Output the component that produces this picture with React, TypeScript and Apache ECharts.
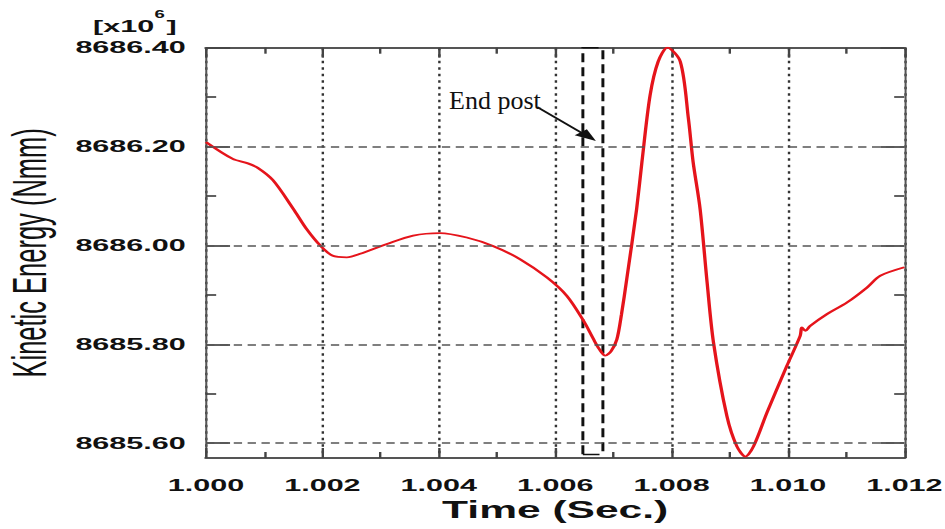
import React, { useEffect, useRef } from "react";
import * as echarts from "echarts";

// ---- data ----
const TIME = [
  1.0, 1.00046, 1.00072, 1.00089, 1.00115, 1.0015, 1.00173, 1.00197, 1.00218, 1.00242, 1.00265,
  1.00311, 1.00356, 1.00402, 1.00448, 1.00493, 1.0054, 1.00586, 1.0062, 1.00649, 1.00666,
  1.00676, 1.00686, 1.00696, 1.00706, 1.00714, 1.00723, 1.0074, 1.00749, 1.00763, 1.00777,
  1.00793, 1.00815, 1.00829, 1.00837, 1.00849, 1.00861, 1.00872, 1.00895, 1.00912, 1.00927,
  1.00941, 1.00964, 1.00998, 1.01021, 1.01024, 1.0103, 1.01038, 1.01067, 1.01102, 1.01136,
  1.01159, 1.012,
];
const ENERGY = [
  8686.209, 8686.175, 8686.166, 8686.157, 8686.132, 8686.074, 8686.033, 8685.999, 8685.979, 8685.976, 8685.983,
  8686.003, 8686.02, 8686.025, 8686.016, 8685.999, 8685.972, 8685.935, 8685.898, 8685.847, 8685.81,
  8685.79, 8685.777, 8685.786, 8685.81, 8685.861, 8685.932, 8686.074, 8686.168, 8686.303, 8686.372,
  8686.4, 8686.372, 8686.256, 8686.169, 8686.074, 8685.926, 8685.804, 8685.655, 8685.594, 8685.573,
  8685.594, 8685.662, 8685.756, 8685.817, 8685.834, 8685.827, 8685.837, 8685.861, 8685.885, 8685.915,
  8685.939, 8685.956,
];
const X_MIN = 1.0;
const X_MAX = 1.012;
const X_STEP = 0.002;
const Y_MIN = 8685.57;
const Y_MAX = 8686.4;
const Y_MAJOR = [8685.6, 8685.8, 8686.0, 8686.2, 8686.4];
const Y_MINOR = [8685.7, 8685.9, 8686.1, 8686.3];
const Y_GRID = [8685.6, 8685.8, 8686.0, 8686.2];
const END_POST_BOX = [
  [1.006476, 8685.577],
  [1.00682, 8686.41],
];
const ARROW = [
  [1.00569, 8686.28],
  [1.00657, 8686.22],
];
const X_TITLE = "Time (Sec.)";
const Y_TITLE = "Kinetic Energy (Nmm)";
const NOTE = "End post";

// ---- layout ----
const S = 1.85; // horizontal stretch of the reference
const W = 945 / S;
const H = 529;
const FF = "'Liberation Sans', Arial, Helvetica, sans-serif";

export default function App() {
  const ref = useRef<HTMLDivElement>(null);

  useEffect(() => {
    if (!ref.current) return;
    const chart = echarts.init(ref.current, null, { renderer: "svg" });

    const yBase = (position: "left" | "right", values: number[], len: number, withLine: boolean) => ({
      type: "value",
      position,
      min: Y_MIN,
      max: Y_MAX,
      axisLine: { show: withLine, onZero: false, lineStyle: { color: "#555", width: 1.1 } },
      axisTick: { show: true, inside: true, length: len, customValues: values, lineStyle: { color: "#444", width: 1.7 } },
      axisLabel: { show: false },
      splitLine: { show: false },
    });

    const xBase = (position: "bottom" | "top") => ({
      type: "value",
      position,
      min: X_MIN,
      max: X_MAX,
      interval: X_STEP,
      axisLine: { show: true, onZero: false, lineStyle: { color: "#555", width: 2 } },
      axisTick: { show: true, inside: true, length: 10, lineStyle: { color: "#444", width: 1.3 } },
      minorTick: { show: true, splitNumber: 2, length: 6, lineStyle: { color: "#444", width: 1.3 } },
      axisLabel: { show: false },
      splitLine: { show: false },
    });

    const option: any = {
      animation: false,
      backgroundColor: "#ffffff",
      grid: {
        left: 206 / S,
        right: (945 - 904) / S,
        top: 47.7,
        bottom: H - 458,
        containLabel: false,
        outerBoundsMode: "none",
      },
      xAxis: [
        {
          ...xBase("bottom"),
          splitLine: { show: true, lineStyle: { color: "#333", width: 1.3, type: [2.5, 4] } },
          axisLabel: {
            show: true,
            formatter: (v: number) => v.toFixed(3),
            fontFamily: FF,
            fontWeight: "bold",
            fontSize: 16.5,
            color: "#111",
            margin: 19,
          },
          name: X_TITLE,
          nameLocation: "middle",
          nameGap: 38,
          nameTextStyle: { fontFamily: FF, fontWeight: "bold", fontSize: 23, color: "#111" },
        },
        xBase("top"),
      ],
      yAxis: [
        {
          ...yBase("left", Y_MAJOR, 13, true),
          axisLabel: {
            show: true,
            customValues: Y_MAJOR,
            formatter: (v: number) => v.toFixed(2),
            fontFamily: FF,
            fontWeight: "bold",
            fontSize: 16.5,
            color: "#111",
            margin: 11,
          },
          name: Y_TITLE,
          nameLocation: "middle",
          nameGap: 84,
          nameTextStyle: { fontFamily: FF, fontSize: 25.5, lineHeight: 22, color: "#111" },
        },
        yBase("left", Y_MINOR, 5.5, false),
        yBase("right", Y_MAJOR, 13, true),
        yBase("right", Y_MINOR, 5.5, false),
      ],
      graphic: [
        {
          type: "text",
          x: 50.3,
          y: 26,
          style: { text: "[x10", fontFamily: FF, fontWeight: "bold", fontSize: 16.5, fill: "#111", align: "left", verticalAlign: "middle" },
        },
        {
          type: "text",
          x: 83.5,
          y: 15,
          style: { text: "6", fontFamily: FF, fontWeight: "bold", fontSize: 10, fill: "#111", align: "left", verticalAlign: "middle" },
        },
        {
          type: "text",
          x: 90,
          y: 26,
          style: { text: "]", fontFamily: FF, fontWeight: "bold", fontSize: 16.5, fill: "#111", align: "left", verticalAlign: "middle" },
        },
        {
          type: "text",
          x: 449 / S,
          y: 100.5,
          scaleX: 1 / S,
          style: { text: NOTE, fontFamily: "'Liberation Serif', 'Times New Roman', serif", fontSize: 26, fill: "#111", align: "left", verticalAlign: "middle" },
        },
      ],
      series: [
        {
          type: "line",
          name: "grid",
          z: 1,
          xAxisIndex: 0,
          yAxisIndex: 0,
          data: [[TIME[0], ENERGY[0]]],
          symbol: "none",
          lineStyle: { opacity: 0 },
          silent: true,
          markLine: {
            silent: true,
            symbol: ["none", "none"],
            label: { show: false },
            lineStyle: { color: "#555", width: 1.5, type: [4.5, 3] },
            data: Y_GRID.map((v) => ({ yAxis: v })),
          },
        },
        {
          type: "line",
          name: "Kinetic Energy",
          z: 3,
          xAxisIndex: 0,
          yAxisIndex: 0,
          data: TIME.map((t, i) => [t, ENERGY[i]]),
          symbol: "none",
          showSymbol: false,
          smooth: 0.3,
          lineStyle: { color: "#e5141b", width: 1.8 },
        },
        {
          type: "line",
          name: "annotation",
          z: 4,
          xAxisIndex: 0,
          yAxisIndex: 0,
          data: [[TIME[0], ENERGY[0]]],
          symbol: "none",
          lineStyle: { opacity: 0 },
          silent: true,
          clip: false,
          markArea: {
            silent: true,
            label: { show: false },
            itemStyle: { color: "rgba(0,0,0,0)", borderColor: "#111", borderWidth: 1.6, borderType: [9, 5] },
            data: [[{ coord: END_POST_BOX[0] }, { coord: END_POST_BOX[1] }]],
          },
          markLine: {
            silent: true,
            label: { show: false },
            symbol: ["none", "triangle"],
            symbolSize: [9, 12],
            lineStyle: { color: "#111", width: 1.5, type: "solid" },
            data: [[{ coord: ARROW[0] }, { coord: ARROW[1] }]],
          },
        },
      ],
    };

    chart.setOption(option);
    return () => chart.dispose();
  }, []);

  return (
    <div style={{ position: "fixed", left: 0, top: 0, width: 945, height: H, overflow: "hidden", background: "#fff" }}>
      <div
        ref={ref}
        style={{ width: W, height: H, transform: `scaleX(${S})`, transformOrigin: "0 0" }}
      />
    </div>
  );
}
